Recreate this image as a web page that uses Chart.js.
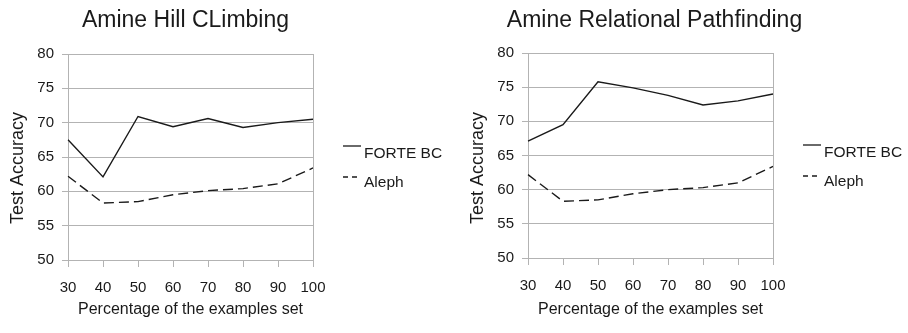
<!DOCTYPE html>
<html>
<head>
<meta charset="utf-8">
<script src="https://cdn.jsdelivr.net/npm/chart.js@4/dist/chart.umd.min.js"></script>
<style>
  html, body { margin: 0; padding: 0; background: #fff; }
  #wrap { position: relative; width: 908px; height: 333px; overflow: hidden; }
  .box { position: absolute; top: 0; height: 333px; }
  #boxA { left: 0; width: 460px; }
  #boxB { left: 460px; width: 448px; }
</style>
</head>
<body>
<div id="wrap">
  <div class="box" id="boxA"><canvas id="hill"></canvas></div>
  <div class="box" id="boxB"><canvas id="path"></canvas></div>
</div>
<script>
// Percentage of the examples set used for training
const percentages = ['30', '40', '50', '60', '70', '80', '90', '100'];

// Amine, hill climbing
const hillForte = [67.5, 62.1, 70.9, 69.4, 70.6, 69.3, 70.0, 70.5];
const hillAleph = [62.2, 58.3, 58.5, 59.5, 60.1, 60.4, 61.1, 63.4];

// Amine, relational pathfinding
const pathForte = [67.1, 69.5, 75.8, 74.9, 73.8, 72.4, 73.0, 74.0];
const pathAleph = [62.2, 58.3, 58.5, 59.4, 60.0, 60.3, 61.0, 63.4];

const yTicks = [50, 55, 60, 65, 70, 75, 80];
const seriesNames = ['FORTE BC', 'Aleph'];
const yTitle = 'Test Accuracy';
const xTitle = 'Percentage of the examples set';

const FONT = '"Liberation Sans", Arial, Helvetica, sans-serif';
const GRID = '#b3b3b3';
const INK = '#1a1a1a';

// Title, y-axis caption, right-hand frame line and line-sample legend
const decorations = {
  id: 'decorations',
  afterDraw(chart, args, opts) {
    const { ctx, chartArea: a } = chart;
    ctx.save();
    // right frame line
    ctx.strokeStyle = GRID;
    ctx.lineWidth = 1;
    ctx.beginPath();
    ctx.moveTo(Math.round(a.right) + 0.5, a.top);
    ctx.lineTo(Math.round(a.right) + 0.5, a.bottom);
    ctx.stroke();

    // title
    ctx.fillStyle = INK;
    ctx.font = '23px ' + FONT;
    ctx.textAlign = 'center';
    ctx.textBaseline = 'alphabetic';
    ctx.fillText(opts.title, (a.left + a.right) / 2 + opts.titleShift, 27);

    // y-axis caption
    ctx.save();
    ctx.translate(18, 168);
    ctx.rotate(-Math.PI / 2);
    ctx.font = '18px ' + FONT;
    ctx.textBaseline = 'middle';
    ctx.fillText(yTitle, 0, 0);
    ctx.restore();

    // legend
    const lx = a.right + 30;
    const rows = [
      { dash: [], lineY: a.top + 92, textY: a.top + 104 },
      { dash: [5, 4], lineY: a.top + 123, textY: a.top + 133 }
    ];
    ctx.textAlign = 'left';
    ctx.textBaseline = 'alphabetic';
    ctx.font = '15.5px ' + FONT;
    rows.forEach((r, i) => {
      ctx.strokeStyle = INK;
      ctx.lineWidth = 1.3;
      ctx.setLineDash(r.dash);
      ctx.beginPath();
      ctx.moveTo(lx, r.lineY);
      ctx.lineTo(lx + 18, r.lineY);
      ctx.stroke();
      ctx.setLineDash([]);
      ctx.fillText(seriesNames[i], lx + 21, r.textY);
    });
    ctx.restore();
  }
};

function makeChart(id, title, titleShift, forte, aleph, padRight, bottomH, padTop) {
  return new Chart(document.getElementById(id), {
    type: 'line',
    data: {
      labels: percentages,
      datasets: [
        { label: seriesNames[0], data: forte, borderColor: INK, borderWidth: 1.4,
          pointRadius: 0, tension: 0, fill: false },
        { label: seriesNames[1], data: aleph, borderColor: INK, borderWidth: 1.4,
          borderDash: [10, 5], pointRadius: 0, tension: 0, fill: false }
      ]
    },
    options: {
      responsive: true,
      maintainAspectRatio: false,
      animation: false,
      layout: { padding: { top: padTop, right: padRight, bottom: 0, left: 0 } },
      plugins: {
        legend: { display: false },
        tooltip: { enabled: false },
        decorations: { title: title, titleShift: titleShift }
      },
      scales: {
        x: {
          type: 'category',
          offset: false,
          afterFit(s) { s.height = bottomH; },
          grid: { display: true, drawOnChartArea: false, drawTicks: true, tickLength: 7, color: GRID },
          border: { display: true, color: GRID },
          ticks: { color: INK, font: { family: FONT, size: 15 }, padding: 12, maxRotation: 0, autoSkip: false },
          title: { display: true, text: xTitle, color: INK,
                   font: { family: FONT, size: 16 }, padding: { top: 0, bottom: 14 } }
        },
        y: {
          min: 50, max: 80,
          afterFit(s) { s.width = 68; },
          afterBuildTicks(s) { s.ticks = yTicks.map(v => ({ value: v })); },
          grid: { color: GRID, drawTicks: true, tickLength: 6 },
          border: { display: true, color: GRID },
          ticks: { color: INK, font: { family: FONT, size: 15 }, padding: 8 },
          title: { display: false }
        }
      }
    },
    plugins: [decorations]
  });
}

makeChart('hill', 'Amine Hill CLimbing', -5, hillForte, hillAleph, 147, 73, 54);
makeChart('path', 'Amine Relational Pathfinding', 4, pathForte, pathAleph, 135, 75, 53);
</script>
</body>
</html>
